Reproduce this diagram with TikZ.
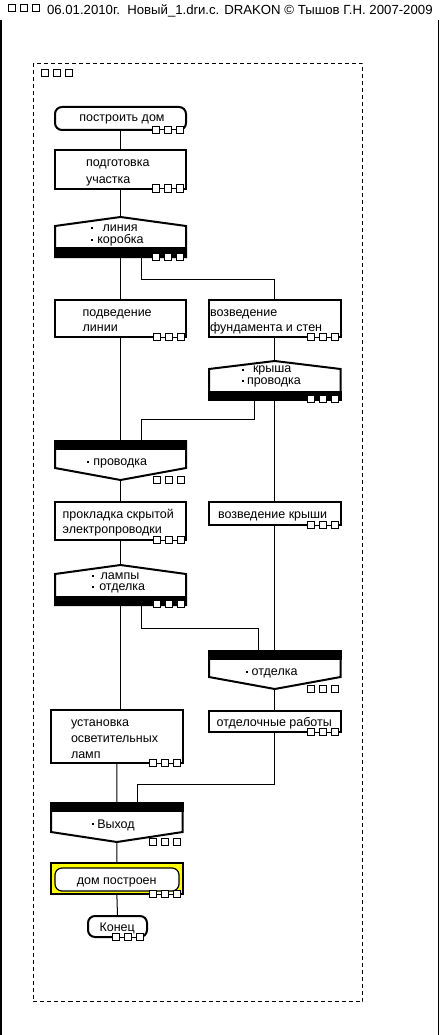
\documentclass[tikz,border=0pt]{standalone}
\usepackage{fontspec}
\setmainfont{Liberation Sans}
\usetikzlibrary{backgrounds}
\definecolor{dyellow}{RGB}{255,255,0}
\tikzset{
  conn/.style={line width=1pt},
  shp/.style={draw, line width=2pt, fill=white, inner sep=0pt, outer sep=0pt, anchor=north west},
  term/.style={shp, rounded corners=7pt},
  lbl/.style={inner sep=0pt, outer sep=0pt, font=\fontsize{12.5}{15}\selectfont},
  outline/.style={draw, line width=2pt, line join=miter, fill=white},
  sqr/.style={draw, line width=1pt, fill=white},
}
% row of three squares on an edge: right x, centre y
\newcommand{\sqrow}[2]{%
  \fill[white] (#1-31,#2-1.6) rectangle (#1,#2+1.6);
  \draw[line width=1pt] (#1-31,#2) -- (#1,#2);
  \foreach \k in {0,1,2}{\draw[sqr] (#1-7-\k*12,#2-3.5) rectangle ++(7,7);}
}
% three separate squares: right x, top y
\newcommand{\sqsep}[2]{%
  \foreach \k in {0,1,2}{\draw[sqr] (#1-7-\k*12,#2) rectangle ++(7,7);}
}
\newcommand{\bul}[2]{\fill (#1-1,#2-1) rectangle (#1+1,#2+1);}
\begin{document}
\begin{tikzpicture}[x=1pt,y=-1pt]
\useasboundingbox (0,0) rectangle (440,1035);
% page frame
\draw[line width=1.5pt] (0.75,20) -- (0.75,1035);
\draw[line width=1.5pt] (438.5,20) -- (438.5,1035);
\foreach \xx in {8,20,32}{\draw[sqr] (\xx,5) rectangle ++(7,7);}
\node[lbl, font=\fontsize{13.2}{15}\selectfont, anchor=base west] (hdr) at (47,15) {06.01.2010г.\ \ Новый\_1.drи.с. DRAKON © Тышов Г.Н. 2007-2009};
\draw[line width=1pt, dash pattern=on 4pt off 3pt] (33.5,63.5) rectangle (362.5,1001.5);
\foreach \xx in {41,53,65}{\draw[sqr] (\xx,70) rectangle ++(7,7);}

% ---------- coordinates of fork / merge ports ----------
\coordinate (f1in) at (120.5,217);
\coordinate (f1a) at (120.5,257);
\coordinate (f1b) at (141,257);
\coordinate (f2in) at (274.75,361);
\coordinate (f2a) at (254,400);
\coordinate (f2b) at (274.75,400);
\coordinate (f3in) at (120.5,565);
\coordinate (f3a) at (120.5,606);
\coordinate (f3b) at (141,606);
\coordinate (m1a) at (120.5,440);
\coordinate (m1b) at (141,440);
\coordinate (m1out) at (120.5,480);
\coordinate (m2a) at (258,650);
\coordinate (m2b) at (274.75,650);
\coordinate (m2out) at (274.75,689);
\coordinate (m3a) at (116.85,802);
\coordinate (m3b) at (137,802);
\coordinate (m3out) at (116.85,842);

% ---------- shapes (nodes) ----------
\node[term, minimum width=131, minimum height=23] (t1) at (55,107) {};
\node[shp, minimum width=131, minimum height=39] (b2) at (55,150) {};
\node[shp, minimum width=131, minimum height=37] (b4) at (55,300) {};
\node[shp, minimum width=131.5, minimum height=37] (b5) at (209,300) {};
\node[shp, minimum width=131, minimum height=38] (b8) at (55,502) {};
\node[shp, minimum width=131.5, minimum height=23] (b9) at (209,502) {};
\node[shp, minimum width=131.7, minimum height=53] (b11) at (51,710) {};
\node[shp, minimum width=131.5, minimum height=21] (b12) at (209,711) {};
\node[shp, fill=dyellow, minimum width=131.7, minimum height=31] (y13) at (51,863) {};
\node[term, line width=1.2pt, minimum width=124, minimum height=23] (i13) at (55,868) {};
\node[term, minimum width=59, minimum height=21] (t15) at (88,916) {};

% ---------- connectors (behind) ----------
\begin{scope}[on background layer]
\draw[conn] (t1.south) -- (b2.north);
\draw[conn] (b2.south) -- (f1in);
\draw[conn] (f1a) -- (f1a |- b4.north);
\draw[conn] (f1b) -- (141,279) -| (b5.north);
\draw[conn] (b4.south) -- (m1a);
\draw[conn] (b5.south) -- (f2in);
\draw[conn] (f2a) -- (254,419) -| (m1b);
\draw[conn] (f2b) -- (b9.north);
\draw[conn] (m1out) -- (m1out |- b8.north);
\draw[conn] (b8.south) -- (f3in);
\draw[conn] (f3a) -- (f3a |- b11.north);
\draw[conn] (f3b) -- (141,628) -| (m2a);
\draw[conn] (b9.south) -- (m2b);
\draw[conn] (m2out) -- (b12.north);
\draw[conn] (b12.south) -- (274.75,784) -| (m3b);
\draw[conn] (b11.south) -- (m3a);
\draw[conn] (m3out) -- (y13.north);
\draw[conn] (y13.south) -- (t15.north);
\end{scope}

% ---------- forks ----------
\draw[outline] (55,226) -- (f1in) -- (186,226) -- (186,257) -- (55,257) -- cycle;
\fill (54,246.5) rectangle (187,258);
\sqsep{183}{253.5}
\draw[outline] (209,369) -- (f2in) -- (340.5,369) -- (340.5,399.5) -- (209,399.5) -- cycle;
\fill (208,390.5) rectangle (341.5,400.5);
\sqsep{338}{395}
\draw[outline] (55,574) -- (f3in) -- (186,574) -- (186,605) -- (55,605) -- cycle;
\fill (54,595.5) rectangle (187,606);
\sqsep{184}{600.5}

% ---------- merges ----------
\draw[outline] (55,441) -- (186,441) -- (186,468) -- (m1out) -- (55,468) -- cycle;
\fill (54,439.5) rectangle (187,450);
\sqsep{184}{476.5}
\draw[outline] (209,651) -- (340.5,651) -- (340.5,677) -- (m2out) -- (209,677) -- cycle;
\fill (208,649.5) rectangle (341.5,660);
\sqsep{338}{685.5}
\draw[outline] (51,803) -- (182.7,803) -- (182.7,832) -- (m3out) -- (51,832) -- cycle;
\fill (50,801.5) rectangle (183.7,812);
\sqsep{180}{838.5}

% ---------- squares on edges ----------
\sqrow{183}{130}
\sqrow{183}{188.5}
\sqrow{184}{337}
\sqrow{338}{337}
\sqrow{184}{540}
\sqrow{338}{525}
\sqrow{180}{763}
\sqrow{338}{732}
\sqrow{180}{894}
\sqrow{143}{937}

% ---------- texts ----------
\node[lbl, anchor=base] (x1) at (122,121.7) {построить дом};
\node[lbl, anchor=base west] (x2a) at (86,167) {подготовка};
\node[lbl, anchor=base west] (x2b) at (86,183) {участка};
\bul{91.7}{227.8}\bul{91.7}{239.8}
\node[lbl, anchor=base west] (x3a) at (102.7,231.5) {линия};
\node[lbl, anchor=base west] (x3b) at (97.3,243.3) {коробка};
\node[lbl, anchor=base west] (x4a) at (82.7,316) {подведение};
\node[lbl, anchor=base west] (x4b) at (82.7,331.5) {линии};
\node[lbl, anchor=base west] (x5a) at (210,316) {возведение};
\node[lbl, anchor=base west] (x5b) at (210,331.5) {фундамента и стен};
\bul{243}{369.5}\bul{243}{380.8}
\node[lbl, anchor=base west] (x6a) at (253,372.7) {крыша};
\node[lbl, anchor=base west] (x6b) at (247,384.3) {проводка};
\bul{87.7}{461.5}
\node[lbl, anchor=base west] (x7) at (93.3,465) {проводка};
\node[lbl, anchor=base west] (x8a) at (62.7,518) {прокладка скрытой};
\node[lbl, anchor=base west] (x8b) at (62.7,533.5) {электропроводки};
\node[lbl, anchor=base west] (x9) at (218,518) {возведение крыши};
\bul{93.3}{575.5}\bul{93.3}{587}
\node[lbl, anchor=base west] (x10a) at (100.7,579) {лампы};
\node[lbl, anchor=base west] (x10b) at (99.3,590.5) {отделка};
\bul{246.7}{671.5}
\node[lbl, anchor=base west] (x11) at (251.7,675) {отделка};
\node[lbl, anchor=base west] (x12a) at (71,726) {установка};
\node[lbl, anchor=base west] (x12b) at (71,742.5) {осветительных};
\node[lbl, anchor=base west] (x12c) at (71,758.5) {ламп};
\node[lbl, anchor=base west] (x13) at (216.7,726) {отделочные работы};
\bul{92.7}{824}
\node[lbl, anchor=base west] (x14) at (97.3,828.3) {Выход};
\node[lbl, anchor=base] (x15) at (116.7,884) {дом построен};
\node[lbl, anchor=base] (x16) at (117.2,931.7) {Конец};
\end{tikzpicture}
\end{document}
